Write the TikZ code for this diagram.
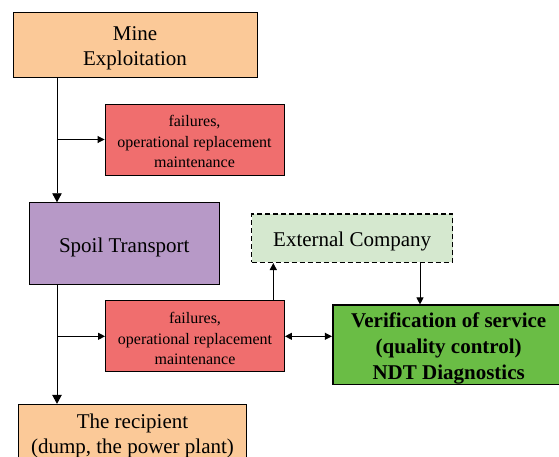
\documentclass[tikz,border=0pt]{standalone}
\usepackage{fontspec}
\setmainfont{Liberation Serif}
\usetikzlibrary{arrows.meta,positioning}
\definecolor{MinePeach}{HTML}{FBC998}
\definecolor{FaultRed}{HTML}{F06E6E}
\definecolor{SpoilLilac}{HTML}{B799C7}
\definecolor{ExtGreen}{HTML}{D5E8CF}
\definecolor{NdtGreen}{HTML}{6ABD45}

\begin{document}
\begin{tikzpicture}[x=1pt,y=-1pt,
  drop/.style={execute at begin node={\rule{0pt}{#1}}},
  stage/.style={draw=black,line width=.9pt,align=center,inner sep=0pt,
    font=\fontsize{21}{25}\selectfont,drop=20.5pt},
  fault/.style={stage,fill=FaultRed,minimum width=179pt,minimum height=71pt,
    font=\fontsize{16}{20.5}\selectfont,drop=57pt},
  arrow/.style={-{Triangle[length=7pt,width=7pt]},line width=.9pt},
  bigarrow/.style={-{Triangle[length=9pt,width=9.5pt]},line width=.9pt}
]
\useasboundingbox (0,0) rectangle (559,456);
\clip (0,0) rectangle (559,456);
\node[stage,fill=MinePeach,minimum width=244pt,minimum height=65pt,drop=45.5pt] (mine)
  at (135,44.5) {Mine\\Exploitation};
\node[fault] (fault1) at (194.5,139.5) {failures,\\operational replacement\\maintenance};
\node[stage,fill=SpoilLilac,minimum width=190pt,minimum height=81.6pt,drop=22pt] (spoil)
  at (124.3,243.5) {Spoil Transport};
\node[fault] (fault2) at (195,336.3) {failures,\\operational replacement\\maintenance};
\node[stage,fill=MinePeach,minimum width=228.4pt,minimum height=56.4pt,drop=45.5pt] (recipient)
  at (132.5,432.5) {The recipient\\(dump, the power plant)};
\node[stage,dashed,dash pattern=on 5pt off 3pt,line width=1.3pt,fill=ExtGreen,
  minimum width=201pt,minimum height=48.3pt] (external) at (352.2,238.2) {External Company};
\node[stage,fill=NdtGreen,line width=1.6pt,minimum width=232pt,minimum height=76.5pt,
  font=\fontsize{21}{26}\selectfont\bfseries,drop=74.5pt] (ndt) at (448.7,344.8)
  {Verification of service\\(quality control)\\NDT Diagnostics};
% trunk on the left
\coordinate (trunk) at (57,0);
\draw[bigarrow] (trunk |- mine.south) -- (trunk |- spoil.north);
\draw[arrow] (trunk |- fault1.west) -- (fault1.west);
\draw[bigarrow] (trunk |- spoil.south) -- (trunk |- recipient.north);
\draw[arrow] (trunk |- fault2.west) -- (fault2.west);
% external company loop
\coordinate (up) at (273.3,0);
\coordinate (down) at (420,0);
\draw[arrow] (up |- fault2.north) -- (up |- external.south);
\draw[arrow] (down |- external.south) -- (down |- ndt.north);
\draw[{Triangle[length=7pt,width=7pt]}-{Triangle[length=7pt,width=7pt]},line width=.9pt]
  (fault2.east) -- (fault2.east -| ndt.west);
\end{tikzpicture}
\end{document}
